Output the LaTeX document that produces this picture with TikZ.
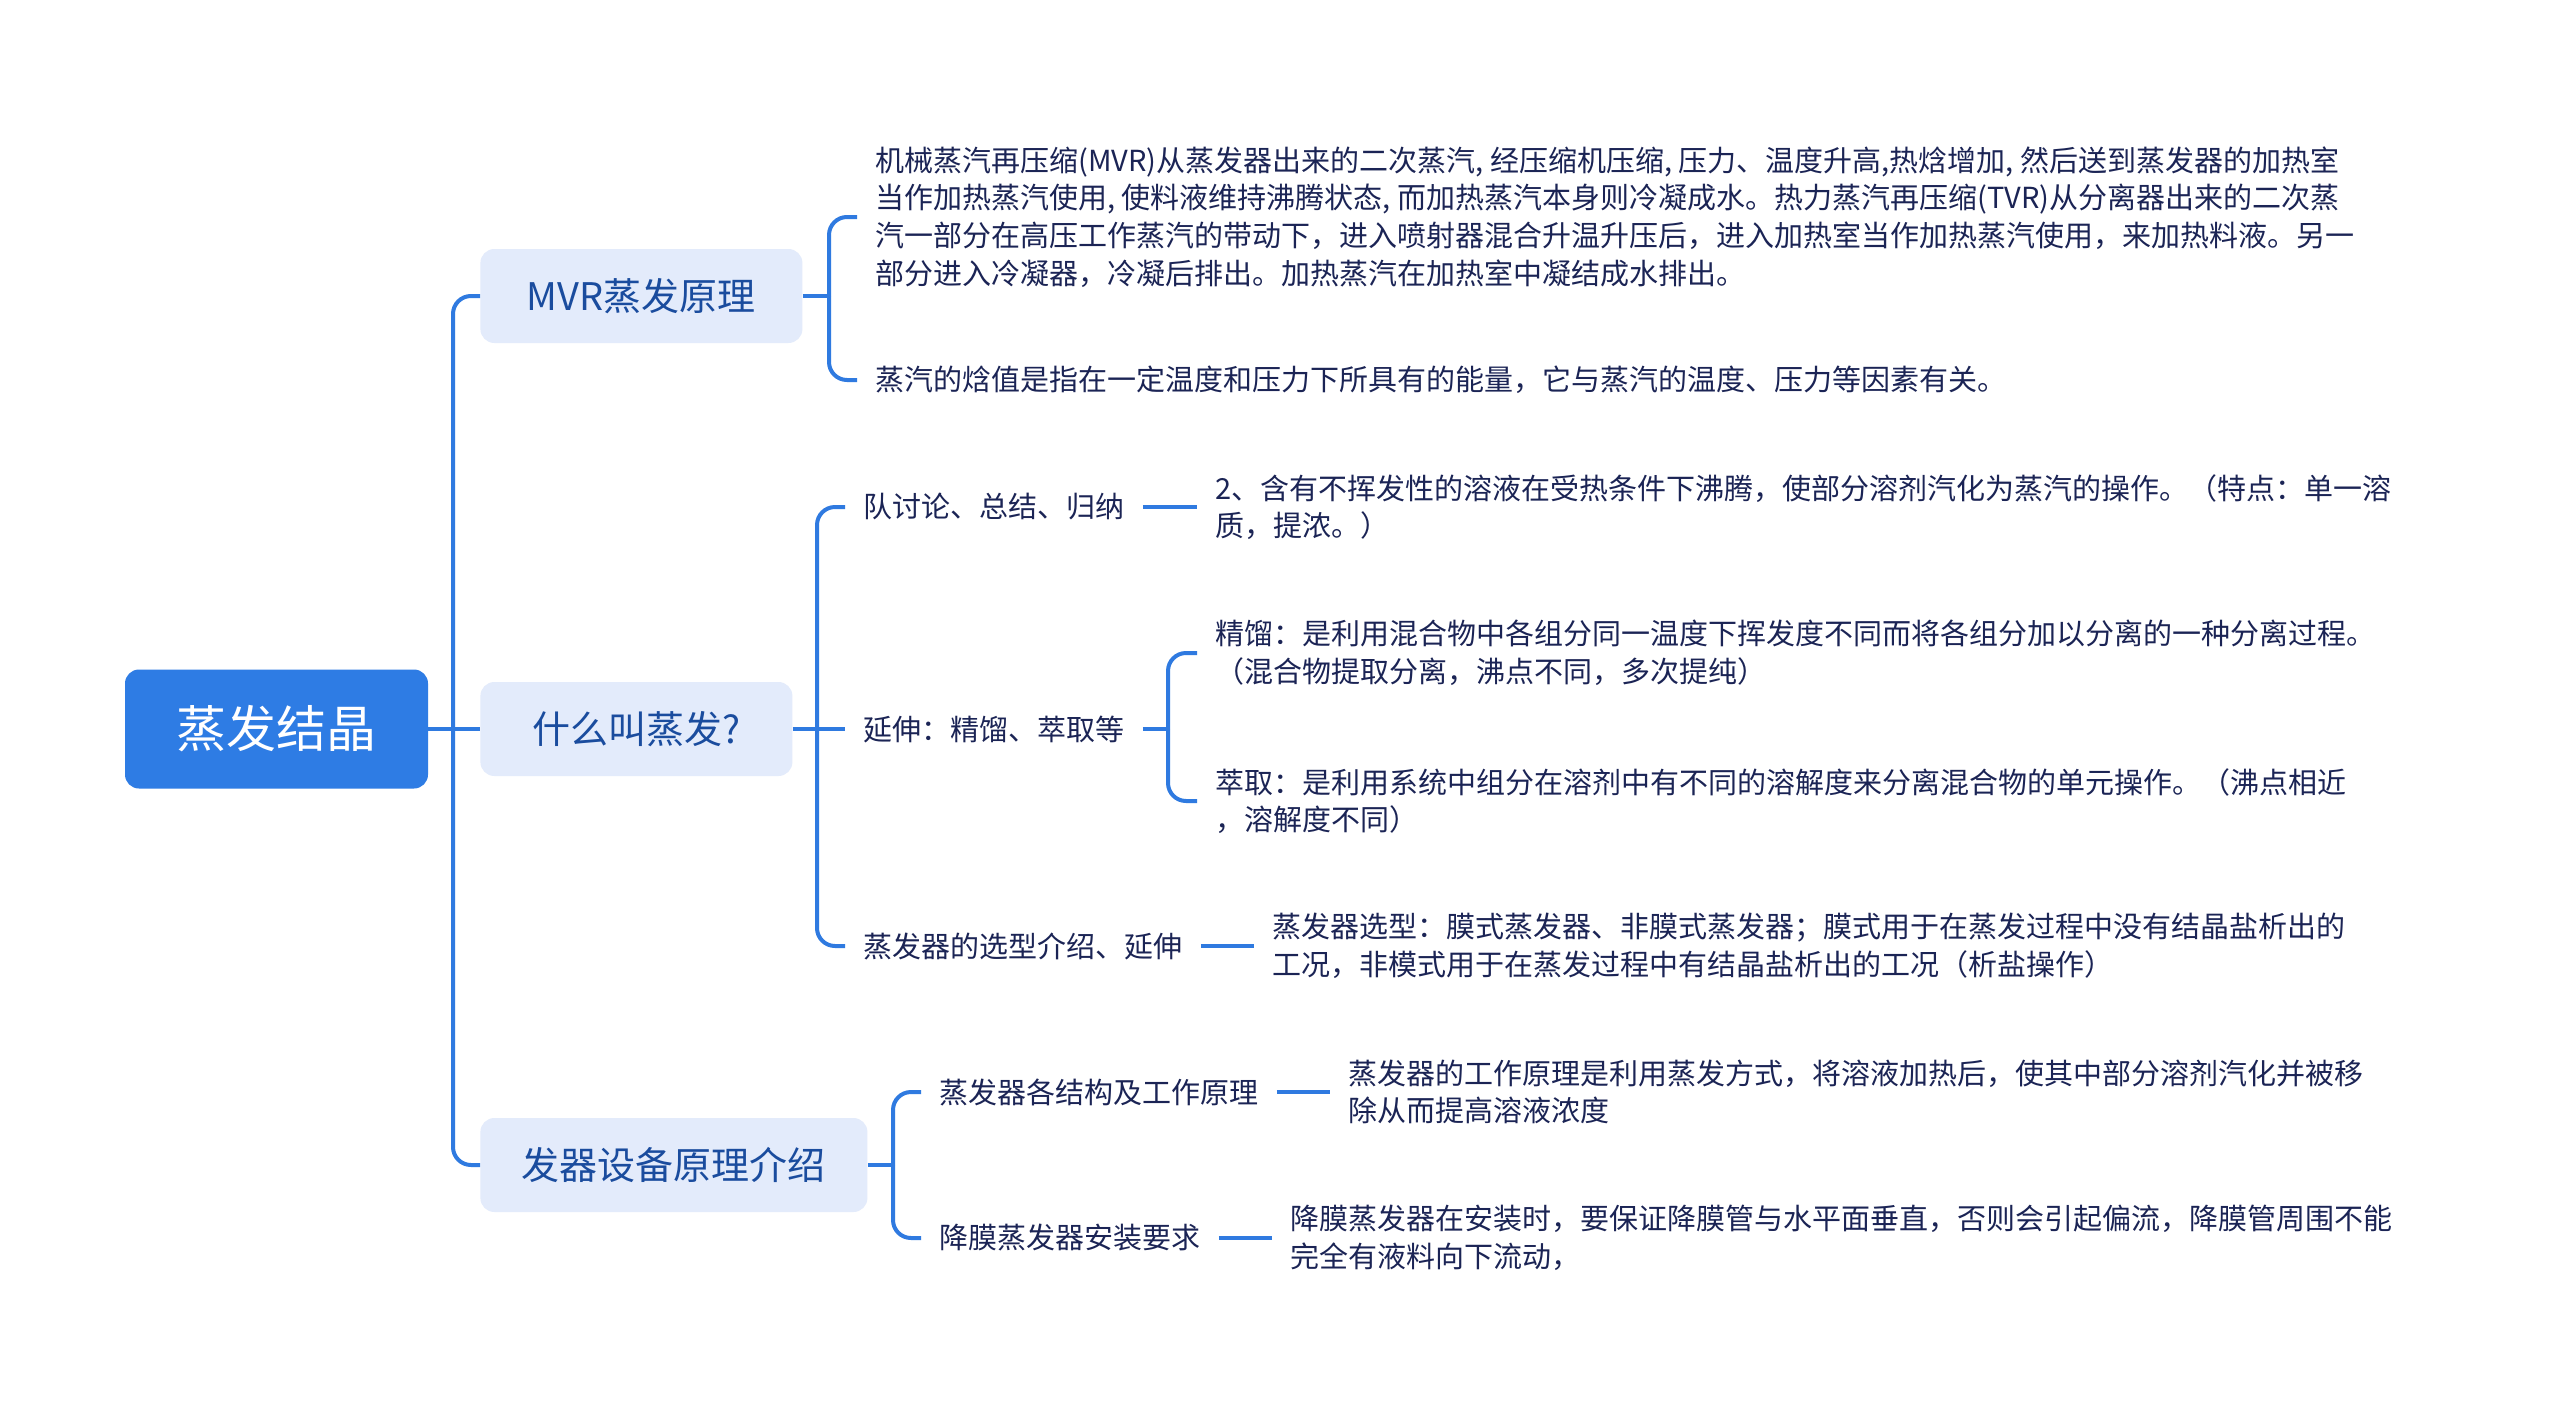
\documentclass[tikz,border=0pt]{standalone}
\usepackage{fontspec}
\setmainfont{Noto Sans CJK SC}
\definecolor{rootblue}{HTML}{2E7CE4}
\definecolor{linkblue}{HTML}{2F7AE0}
\definecolor{lvfill}{HTML}{E3EBFB}
\definecolor{lvtext}{HTML}{1A4C9E}
\definecolor{leaftext}{HTML}{1B2455}
\begin{document}
\begin{tikzpicture}[x=0.5pt,y=-0.5pt,
 rootbox/.style={fill=rootblue, text=white, rounded corners=7pt, minimum width=151.5pt, minimum height=59.5pt, inner sep=0pt, font=\fontsize{25pt}{30pt}\selectfont},
 lvbox/.style={fill=lvfill, text=lvtext, rounded corners=7pt, minimum height=47pt, inner sep=0pt, anchor=west, font=\fontsize{19pt}{22pt}\selectfont},
 lvtwo/.style={text=leaftext, inner xsep=9pt, inner ysep=0pt, anchor=west, font=\fontsize{14.5pt}{18.8pt}\selectfont},
 leaf/.style={text=leaftext, inner xsep=9pt, inner ysep=0pt, anchor=west, align=left, font=\fontsize{14.5pt}{18.8pt}\selectfont},
 conn/.style={draw=linkblue, line width=2pt},
 bendconn/.style={conn, rounded corners=9pt}]

\useasboundingbox[fill=white] (0,0) rectangle (2560,1414);

% root and first level
\node[rootbox] (root) at (276.5,729) {蒸发结晶};
\node[lvbox, minimum width=161pt] (mvr) at (480,296) {MVR蒸发原理};
\node[lvbox, minimum width=156pt] (what) at (480,729) {什么叫蒸发?\hspace{8pt}};
\node[lvbox, minimum width=193.5pt] (dev) at (480,1165) {发器设备原理介绍};

\coordinate (t0) at (453,729);
\draw[conn] (root.east) -- (t0);
\draw[bendconn] (t0) |- (mvr.west);
\draw[conn] (t0) -- (what.west);
\draw[bendconn] (t0) |- (dev.west);

% MVR branch
\coordinate (j1) at (829,296);
\draw[conn] (mvr.east) -- (j1);
\node[leaf] (m1) at (857,217) {机械蒸汽再压缩(MVR)从蒸发器出来的二次蒸汽, 经压缩机压缩, 压力、温度升高,热焓增加, 然后送到蒸发器的加热室\\当作加热蒸汽使用, 使料液维持沸腾状态, 而加热蒸汽本身则冷凝成水。热力蒸汽再压缩(TVR)从分离器出来的二次蒸\\汽一部分在高压工作蒸汽的带动下，进入喷射器混合升温升压后，进入加热室当作加热蒸汽使用，来加热料液。另一\\部分进入冷凝器，冷凝后排出。加热蒸汽在加热室中凝结成水排出。};
\node[leaf] (m2) at (857,380) {蒸汽的焓值是指在一定温度和压力下所具有的能量，它与蒸汽的温度、压力等因素有关。};
\draw[bendconn] (j1) |- (m1.west);
\draw[bendconn] (j1) |- (m2.west);

% what branch
\coordinate (j2) at (817,729);
\draw[conn] (what.east) -- (j2);
\node[lvtwo] (q1) at (845,507) {队讨论、总结、归纳};
\node[lvtwo] (q2) at (845,729) {延伸：精馏、萃取等};
\node[lvtwo] (q3) at (845,946) {蒸发器的选型介绍、延伸};
\draw[bendconn] (j2) |- (q1.west);
\draw[conn] (j2) -- (q2.west);
\draw[bendconn] (j2) |- (q3.west);

\node[leaf] (a1) at (1197,507) {2、含有不挥发性的溶液在受热条件下沸腾，使部分溶剂汽化为蒸汽的操作。（特点：单一溶\\质，提浓。）};
\draw[conn] (q1.east) -- (a1.west);

\coordinate (j3) at (1168,729);
\draw[conn] (q2.east) -- (j3);
\node[leaf] (b1) at (1197,653) {精馏：是利用混合物中各组分同一温度下挥发度不同而将各组分加以分离的一种分离过程。\\（混合物提取分离，沸点不同，多次提纯）};
\node[leaf] (b2) at (1197,801) {萃取：是利用系统中组分在溶剂中有不同的溶解度来分离混合物的单元操作。（沸点相近\\，溶解度不同）};
\draw[bendconn] (j3) |- (b1.west);
\draw[bendconn] (j3) |- (b2.west);

\node[leaf] (c1) at (1254,946) {蒸发器选型：膜式蒸发器、非膜式蒸发器；膜式用于在蒸发过程中没有结晶盐析出的\\工况，非模式用于在蒸发过程中有结晶盐析出的工况（析盐操作）};
\draw[conn] (q3.east) -- (c1.west);

% device branch
\coordinate (j4) at (893,1165);
\draw[conn] (dev.east) -- (j4);
\node[lvtwo] (d1) at (921,1092) {蒸发器各结构及工作原理};
\node[lvtwo] (d2) at (921,1238) {降膜蒸发器安装要求};
\draw[bendconn] (j4) |- (d1.west);
\draw[bendconn] (j4) |- (d2.west);

\node[leaf] (e1) at (1330,1092) {蒸发器的工作原理是利用蒸发方式，将溶液加热后，使其中部分溶剂汽化并被移\\除从而提高溶液浓度};
\node[leaf] (e2) at (1272,1238) {降膜蒸发器在安装时，要保证降膜管与水平面垂直，否则会引起偏流，降膜管周围不能\\完全有液料向下流动，};
\draw[conn] (d1.east) -- (e1.west);
\draw[conn] (d2.east) -- (e2.west);
\end{tikzpicture}
\end{document}
